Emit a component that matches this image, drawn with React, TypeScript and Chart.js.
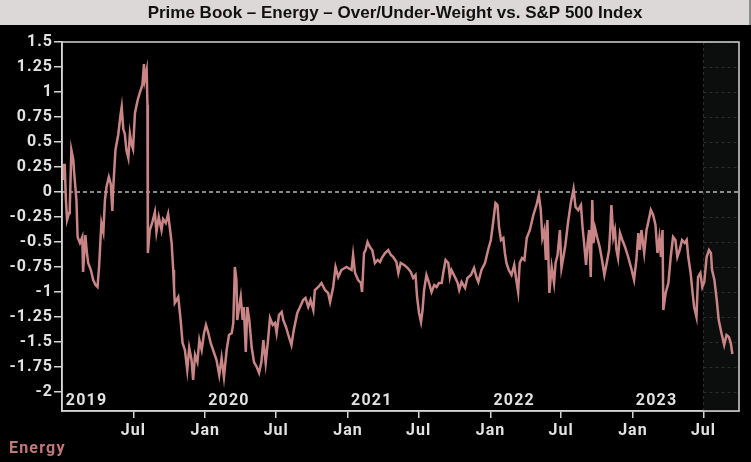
import React, { useEffect, useRef } from "react";
import { Chart, registerables } from "chart.js";

Chart.register(...registerables);

const TITLE = "Prime Book – Energy – Over/Under-Weight vs. S&P 500 Index";
const SERIES_NAME = "Energy";

// Observation dates and values (over/under-weight, percentage points)
const dates: string[] = [
  // 2019
  "2019-01-01", "2019-01-02", "2019-01-06", "2019-01-09", "2019-01-12", "2019-01-17", "2019-01-19", "2019-01-23",
  "2019-01-28", "2019-01-30", "2019-02-05", "2019-02-08", "2019-02-14", "2019-02-20", "2019-02-22", "2019-02-28",
  "2019-03-03", "2019-03-07", "2019-03-14", "2019-03-20", "2019-03-26", "2019-03-31", "2019-04-04", "2019-04-08",
  "2019-04-10", "2019-04-15", "2019-04-19", "2019-04-23", "2019-04-29", "2019-05-04", "2019-05-08", "2019-05-10",
  "2019-05-16", "2019-05-23", "2019-05-29", "2019-06-01", "2019-06-05", "2019-06-09", "2019-06-13", "2019-06-18",
  "2019-06-22", "2019-06-26", "2019-06-30", "2019-07-05", "2019-07-12", "2019-07-18", "2019-07-24", "2019-07-28",
  "2019-07-30", "2019-08-04", "2019-08-06", "2019-08-07", "2019-08-12", "2019-08-18", "2019-08-25", "2019-08-29",
  "2019-09-04", "2019-09-11", "2019-09-15", "2019-09-22", "2019-09-28", "2019-10-03", "2019-10-07", "2019-10-11",
  "2019-10-13", "2019-10-15", "2019-10-24", "2019-10-30", "2019-11-04", "2019-11-10", "2019-11-16", "2019-11-21",
  "2019-11-27", "2019-12-01", "2019-12-06", "2019-12-12", "2019-12-17", "2019-12-23", "2019-12-29",
  // 2020
  "2020-01-03", "2020-01-09", "2020-01-15", "2020-01-23", "2020-01-30", "2020-02-06", "2020-02-12", "2020-02-18",
  "2020-02-25", "2020-03-02", "2020-03-09", "2020-03-13", "2020-03-17", "2020-03-21", "2020-03-23", "2020-03-28",
  "2020-04-01", "2020-04-06", "2020-04-09", "2020-04-14", "2020-04-18", "2020-04-23", "2020-04-29", "2020-05-05",
  "2020-05-12", "2020-05-18", "2020-05-24", "2020-05-29", "2020-06-04", "2020-06-10", "2020-06-15", "2020-06-22",
  "2020-06-28", "2020-07-02", "2020-07-08", "2020-07-15", "2020-07-19", "2020-07-26", "2020-08-01", "2020-08-09",
  "2020-08-15", "2020-08-24", "2020-08-31", "2020-09-08", "2020-09-14", "2020-09-21", "2020-09-27", "2020-10-04",
  "2020-10-08", "2020-10-17", "2020-10-25", "2020-11-03", "2020-11-11", "2020-11-16", "2020-11-24", "2020-11-30",
  "2020-12-07", "2020-12-15", "2020-12-28",
  // 2021
  "2021-01-10", "2021-01-14", "2021-01-19", "2021-01-27", "2021-02-03", "2021-02-06", "2021-02-11", "2021-02-15",
  "2021-02-20", "2021-02-26", "2021-03-04", "2021-03-11", "2021-03-18", "2021-03-24", "2021-03-30", "2021-04-06",
  "2021-04-14", "2021-04-21", "2021-04-27", "2021-05-05", "2021-05-10", "2021-05-16", "2021-05-25", "2021-06-03",
  "2021-06-11", "2021-06-17", "2021-06-23", "2021-06-27", "2021-07-02", "2021-07-07", "2021-07-11", "2021-07-15",
  "2021-07-21", "2021-07-27", "2021-08-03", "2021-08-10", "2021-08-16", "2021-08-22", "2021-08-29", "2021-09-02",
  "2021-09-08", "2021-09-15", "2021-09-19", "2021-09-23", "2021-10-02", "2021-10-09", "2021-10-13", "2021-10-19",
  "2021-10-28", "2021-11-03", "2021-11-12", "2021-11-20", "2021-11-26", "2021-12-01", "2021-12-09", "2021-12-18",
  "2021-12-26",
  // 2022
  "2022-01-02", "2022-01-08", "2022-01-14", "2022-01-19", "2022-01-23", "2022-01-28", "2022-02-03", "2022-02-07",
  "2022-02-11", "2022-02-17", "2022-02-24", "2022-03-03", "2022-03-09", "2022-03-13", "2022-03-17", "2022-03-23",
  "2022-03-29", "2022-04-04", "2022-04-12", "2022-04-21", "2022-04-29", "2022-05-05", "2022-05-10", "2022-05-14",
  "2022-05-19", "2022-05-23", "2022-05-27", "2022-06-01", "2022-06-07", "2022-06-13", "2022-06-17", "2022-06-22",
  "2022-06-28", "2022-07-02", "2022-07-07", "2022-07-12", "2022-07-19", "2022-07-26", "2022-08-02", "2022-08-07",
  "2022-08-14", "2022-08-21", "2022-08-25", "2022-08-29", "2022-09-03", "2022-09-07", "2022-09-11", "2022-09-15",
  "2022-09-19", "2022-09-22", "2022-09-26", "2022-10-02", "2022-10-08", "2022-10-14", "2022-10-20", "2022-10-26",
  "2022-11-01", "2022-11-04", "2022-11-07", "2022-11-12", "2022-11-16", "2022-11-20", "2022-11-24", "2022-11-29",
  "2022-12-05", "2022-12-12", "2022-12-20", "2022-12-29",
  // 2023
  "2023-01-04", "2023-01-10", "2023-01-15", "2023-01-19", "2023-01-23", "2023-01-30", "2023-02-05", "2023-02-09",
  "2023-02-16", "2023-02-22", "2023-02-28", "2023-03-05", "2023-03-10", "2023-03-14", "2023-03-18", "2023-03-20",
  "2023-03-26", "2023-04-02", "2023-04-08", "2023-04-14", "2023-04-20", "2023-04-25", "2023-05-01", "2023-05-07",
  "2023-05-14", "2023-05-19", "2023-05-23", "2023-05-29", "2023-06-03", "2023-06-07", "2023-06-13", "2023-06-17",
  "2023-06-23", "2023-06-28", "2023-07-03", "2023-07-09", "2023-07-15", "2023-07-20", "2023-07-23", "2023-07-29",
  "2023-08-04", "2023-08-09", "2023-08-16", "2023-08-23", "2023-08-29", "2023-09-04", "2023-09-09", "2023-09-13",
];

const values: number[] = [
  // 2019
  0.12, 0.27, 0.27, -0.08, -0.28, -0.21, -0.15, 0.42,
  0.32, 0.2, -0.08, -0.45, -0.51, -0.45, -0.8, -0.43,
  -0.58, -0.71, -0.78, -0.88, -0.93, -0.95, -0.75, -0.45,
  -0.31, -0.4, -0.08, 0.05, 0.15, 0.08, -0.19, 0.02,
  0.42, 0.57, 0.77, 0.85, 0.63, 0.58, 0.42, 0.34,
  0.58, 0.48, 0.43, 0.79, 0.92, 1.0, 1.07, 1.28,
  1.12, 1.22, 0.87, -0.61, -0.38, -0.31, -0.2, -0.4,
  -0.25, -0.38, -0.27, -0.31, -0.22, -0.38, -0.51, -0.78,
  -0.95, -1.11, -1.05, -1.28, -1.51, -1.58, -1.78, -1.56,
  -1.68, -1.88, -1.63, -1.7, -1.48, -1.58, -1.41,
  // 2020
  -1.33, -1.41, -1.51, -1.6, -1.68, -1.83, -1.66, -1.85,
  -1.58, -1.43, -1.41, -1.31, -0.75, -0.88, -1.28, -1.15,
  -1.05, -1.28, -1.15, -1.6, -1.15, -1.28, -1.55, -1.7,
  -1.75, -1.81, -1.7, -1.48, -1.71, -1.48, -1.26, -1.33,
  -1.31, -1.41, -1.23, -1.2, -1.28, -1.35, -1.43, -1.53,
  -1.38, -1.21, -1.15, -1.08, -1.06, -1.15, -1.08, -1.18,
  -0.98, -0.95, -0.91, -0.98, -1.01, -1.1, -0.95, -0.75,
  -0.85, -0.78, -0.75,
  // 2021
  -0.78, -0.63, -0.81, -0.88, -0.91, -1.0, -0.61, -0.58,
  -0.5, -0.55, -0.58, -0.71, -0.68, -0.7, -0.65, -0.61,
  -0.58, -0.63, -0.65, -0.7, -0.81, -0.71, -0.73, -0.76,
  -0.8, -0.86, -0.83, -1.05, -1.21, -1.3, -1.18, -0.98,
  -0.83, -0.9, -1.0, -0.93, -0.95, -0.91, -0.91, -0.81,
  -0.68, -0.71, -0.85, -0.78, -0.85, -0.91, -0.98, -0.9,
  -0.96, -0.86, -0.83, -0.76, -0.85, -0.9, -0.78, -0.71,
  -0.58,
  // 2022
  -0.48, -0.3, -0.11, -0.13, -0.35, -0.48, -0.46, -0.61,
  -0.71, -0.78, -0.83, -0.73, -0.9, -1.0, -0.71, -0.66,
  -0.68, -0.46, -0.38, -0.23, -0.13, -0.03, -0.18, -0.46,
  -0.38, -0.68, -0.28, -1.01, -0.75, -0.91, -0.71, -0.63,
  -0.38, -0.76, -0.65, -0.53, -0.3, -0.11, 0.03, -0.15,
  -0.18, -0.13, -0.35, -0.51, -0.73, -0.51, -0.38, -0.85,
  -0.08, -0.51, -0.36, -0.46, -0.55, -0.68, -0.83, -0.71,
  -0.58, -0.38, -0.13, -0.45, -0.38, -0.58, -0.66, -0.41,
  -0.48, -0.55, -0.65, -0.78,
  // 2023
  -0.88, -0.68, -0.41, -0.58, -0.38, -0.61, -0.38, -0.31,
  -0.18, -0.23, -0.33, -0.61, -0.46, -0.65, -0.38, -1.18,
  -1.01, -0.91, -0.65, -0.45, -0.48, -0.65, -0.58, -0.48,
  -0.51, -0.48, -0.65, -0.81, -1.01, -1.15, -1.25, -0.85,
  -0.81, -0.95, -0.9, -0.65, -0.58, -0.61, -0.78, -0.88,
  -1.08, -1.28, -1.41, -1.53, -1.43, -1.45, -1.51, -1.62,
];

const xTickDates = [
  "2019-07-01", "2020-01-01", "2020-07-01", "2021-01-01", "2021-07-01",
  "2022-01-01", "2022-07-01", "2023-01-01", "2023-07-01",
];
const xTickLabels = ["Jul", "Jan", "Jul", "Jan", "Jul", "Jan", "Jul", "Jan", "Jul"];
const yearDates = ["2019-01-01", "2020-01-01", "2021-01-01", "2022-01-01", "2023-01-01"];
const yearLabels = ["2019", "2020", "2021", "2022", "2023"];
const yTickValues = [1.5, 1.25, 1, 0.75, 0.5, 0.25, 0, -0.25, -0.5, -0.75, -1, -1.25, -1.5, -1.75, -2];

const X_MIN_DATE = "2018-12-30";
const X_MAX_DATE = "2023-09-30";
const Y_MIN = -2.19;
const Y_MAX = 1.5;
const SHADE_START = "2023-07-01";

const BASE = Date.UTC(2019, 0, 1);
const dayOf = (s: string) => (Date.parse(s) - BASE) / 86400000;

const AXIS_FONT = "Roboto, 'Noto Sans', sans-serif";
const LINE_COLOR = "#c98585";
const AXIS_COLOR = "#d4d4d4";
const TEXT_COLOR = "#e2e2e2";
const TITLE_BAR_H = 25;

const decor = {
  id: "decor",
  beforeDraw(chart: any) {
    const ctx = chart.ctx as CanvasRenderingContext2D;
    ctx.save();
    (ctx as any).letterSpacing = "0px";
    ctx.fillStyle = "#000";
    ctx.fillRect(0, 0, chart.width, chart.height);
    ctx.fillStyle = "#dcd8d8";
    ctx.fillRect(0, 0, chart.width, TITLE_BAR_H);
    ctx.fillStyle = "#8a8a8a";
    ctx.fillRect(chart.width - 2, 0, 2, TITLE_BAR_H);
    ctx.fillStyle = "#111";
    ctx.font = "bold 17px 'Liberation Sans', Arial, sans-serif";
    ctx.textAlign = "center";
    ctx.textBaseline = "middle";
    ctx.fillText(TITLE, 395, 13);
    ctx.restore();
    (ctx as any).letterSpacing = "1px";
  },
  beforeDatasetsDraw(chart: any) {
    const ctx = chart.ctx as CanvasRenderingContext2D;
    const a = chart.chartArea;
    const x = chart.scales.x;
    const y = chart.scales.y;
    ctx.save();
    const sx = x.getPixelForValue(dayOf(SHADE_START));
    ctx.fillStyle = "#0c0e0e";
    ctx.fillRect(sx, a.top, a.right - sx, a.bottom - a.top);
    ctx.strokeStyle = "#2c2e2e";
    ctx.lineWidth = 1;
    ctx.setLineDash([3, 3]);
    for (const v of yTickValues) {
      if (v === 0) continue;
      const py = Math.round(y.getPixelForValue(v)) + 0.5;
      ctx.beginPath();
      ctx.moveTo(sx, py);
      ctx.lineTo(a.right, py);
      ctx.stroke();
    }
    ctx.beginPath();
    ctx.moveTo(Math.round(sx) + 0.5, a.top);
    ctx.lineTo(Math.round(sx) + 0.5, a.bottom);
    ctx.stroke();
    ctx.strokeStyle = "#b8b8b8";
    ctx.lineWidth = 1.5;
    ctx.setLineDash([4, 3]);
    const zy = y.getPixelForValue(0);
    ctx.beginPath();
    ctx.moveTo(a.left, zy);
    ctx.lineTo(a.right, zy);
    ctx.stroke();
    ctx.restore();
  },
  afterDraw(chart: any) {
    const ctx = chart.ctx as CanvasRenderingContext2D;
    const a = chart.chartArea;
    const x = chart.scales.x;
    ctx.save();
    ctx.strokeStyle = AXIS_COLOR;
    ctx.lineWidth = 1.5;
    ctx.strokeRect(a.left, a.top, a.right - a.left, a.bottom - a.top);
    (ctx as any).letterSpacing = "1.2px";
    ctx.fillStyle = TEXT_COLOR;
    ctx.font = `bold 16px ${AXIS_FONT}`;
    ctx.textAlign = "left";
    ctx.textBaseline = "middle";
    yearDates.forEach((d, i) => {
      ctx.fillText(yearLabels[i], x.getPixelForValue(dayOf(d)) + 3, a.bottom - 10);
    });
    ctx.fillStyle = "#c07878";
    ctx.font = `bold 16px ${AXIS_FONT}`;
    ctx.fillText(SERIES_NAME, 9, 449);
    ctx.restore();
  },
};

export default function App() {
  const ref = useRef<HTMLCanvasElement | null>(null);

  useEffect(() => {
    document.body.style.margin = "0";
    document.body.style.background = "#000";
    const canvas = ref.current;
    if (!canvas) return;
    const points = dates.map((d, i) => ({ x: dayOf(d), y: values[i] }));
    const chart = new Chart(canvas, {
      type: "line",
      data: {
        datasets: [
          {
            label: SERIES_NAME,
            data: points,
            borderColor: LINE_COLOR,
            borderWidth: 2.5,
            pointRadius: 0,
            tension: 0,
            fill: false,
          },
        ],
      },
      plugins: [decor],
      options: {
        animation: false,
        responsive: false,
        layout: { padding: { top: 42, right: 12, left: 0, bottom: 0 } },
        plugins: { legend: { display: false }, tooltip: { enabled: false }, title: { display: false } },
        scales: {
          x: {
            type: "linear",
            min: dayOf(X_MIN_DATE),
            max: dayOf(X_MAX_DATE),
            afterBuildTicks: (scale: any) => {
              scale.ticks = xTickDates.map((d) => ({ value: dayOf(d) }));
            },
            afterFit: (scale: any) => {
              scale.height = 51;
            },
            ticks: {
              autoSkip: false,
              maxRotation: 0,
              padding: 3,
              color: TEXT_COLOR,
              font: { family: AXIS_FONT, size: 16, weight: "bold" },
              callback: (v: any) => {
                const i = xTickDates.findIndex((d) => Math.abs(dayOf(d) - Number(v)) < 0.01);
                return i >= 0 ? xTickLabels[i] : "";
              },
            },
            grid: { drawOnChartArea: false, drawTicks: true, tickLength: 7, color: AXIS_COLOR, lineWidth: 1.5 },
            border: { display: true, color: AXIS_COLOR, width: 1.5 },
          },
          y: {
            type: "linear",
            min: Y_MIN,
            max: Y_MAX,
            afterBuildTicks: (scale: any) => {
              scale.ticks = yTickValues.map((v) => ({ value: v }));
            },
            afterFit: (scale: any) => {
              scale.width = 62;
            },
            ticks: {
              autoSkip: false,
              padding: 1,
              color: TEXT_COLOR,
              font: { family: AXIS_FONT, size: 16, weight: "bold" },
              callback: (v: any) => String(v),
            },
            grid: { drawOnChartArea: false, drawTicks: true, tickLength: 8, color: AXIS_COLOR, lineWidth: 1.5 },
            border: { display: true, color: AXIS_COLOR, width: 1.5 },
          },
        },
      },
    } as any);
    return () => chart.destroy();
  }, []);

  return (
    <div style={{ width: 751, height: 462, background: "#000" }}>
      <canvas ref={ref} width={751} height={462} style={{ display: "block" }} />
    </div>
  );
}
